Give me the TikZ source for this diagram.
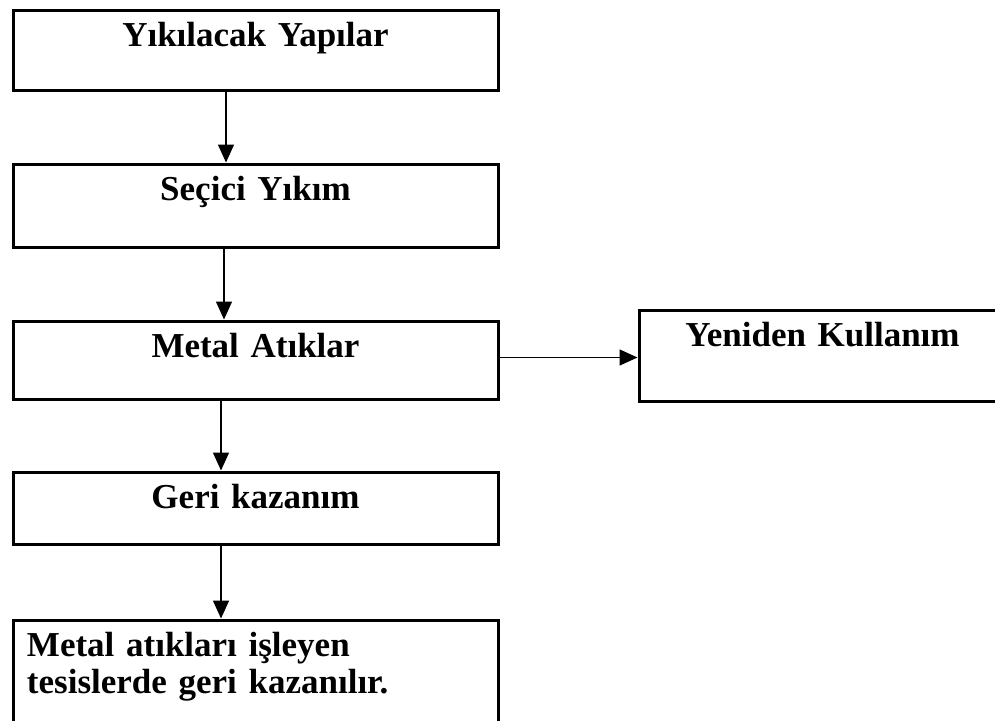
\documentclass[tikz,border=0pt]{standalone}
\usepackage{fontspec}
\setmainfont{Liberation Serif}
\usetikzlibrary{arrows.meta}

\tikzset{
  process/.style={draw, line width=3pt, inner sep=0pt, anchor=north west,
    text width=485pt, align=center, text height=36pt,
    font=\bfseries\fontsize{35}{37}\selectfont},
  flow/.style={line width=1.5pt, -{Triangle[length=18pt,width=16pt]}}
}

\begin{document}
\begin{tikzpicture}[x=1pt,y=1pt,yscale=-1,xscale=1]
\useasboundingbox (0,0) rectangle (995,720);
\clip (0,0) rectangle (995,720);

%Flowchart: Process
\node (demol) at (11.5,8.5) [process, text depth=44pt] {Yıkılacak Yapılar};
%Flowchart: Process
\node (select) at (11.5,162.5) [process, text depth=47pt] {Seçici Yıkım};
%Flowchart: Process
\node (metal) at (11.5,319.5) [process, text depth=42pt] {Metal Atıklar};
%Flowchart: Process
\node (recov) at (11.5,470.5) [process, text depth=36pt] {Geri kazanım};
%Flowchart: Process
\node (plant) at (11.5,618.5) [process, text depth=74pt, align=left,
  inner xsep=14pt, text width=457pt] {Metal atıkları işleyen\\tesislerde geri kazanılır.};
%Flowchart: Process
\node (reuse) at (637.5,308.5) [process, text depth=55pt, text width=367pt] {Yeniden Kullanım};

%Straight Lines
\draw [flow] ([xshift=-29.5pt]demol.south) -- ([xshift=-29.5pt]select.north);
\draw [flow] ([xshift=-31.5pt]select.south) -- ([xshift=-31.5pt]metal.north);
\draw [flow] ([xshift=-34.5pt]metal.south) -- ([xshift=-34.5pt]recov.north);
\draw [flow] ([xshift=-34.5pt]recov.south) -- ([xshift=-34.5pt]plant.north);
\draw [flow] ([yshift=2pt]reuse.west -| metal.east) -- ([yshift=2pt]reuse.west);
\end{tikzpicture}
\end{document}
